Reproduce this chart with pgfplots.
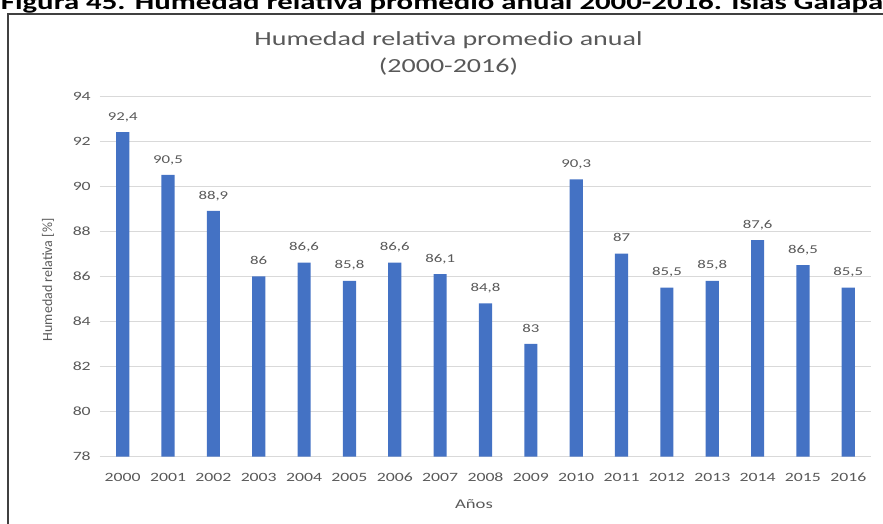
\documentclass[border=0pt]{standalone}
\usepackage{fontspec}
\setmainfont{Carlito}[FakeStretch=1.4]
\newfontfamily\plainfont{Carlito}
\usepackage{pgfplots}
\pgfplotsset{compat=1.18}
\definecolor{barblue}{HTML}{4472C4}
\definecolor{txtgray}{HTML}{595959}
\definecolor{gridgray}{HTML}{D9D9D9}
\begin{document}
\begin{tikzpicture}
\useasboundingbox (0,0) rectangle (662.25pt,-393pt);
\begin{scope}
\clip (0,0) rectangle (662.25pt,-393pt);
\node[anchor=base west, inner sep=0pt, font=\fontsize{16.5}{18}\selectfont\bfseries] at (0.5pt,-7.5pt) {Figura 45. Humedad relativa promedio anual 2000-2016. Islas Galápagos};
\draw[line width=1pt, color=black!75] (6pt,-10.5pt) rectangle (700pt,-420pt);
\end{scope}
\begin{axis}[
  at={(75pt,-342.4pt)}, anchor=south west,
  scale only axis, width=578.25pt, height=270.4pt,
  ybar, bar width=0.29,
  xmin=-0.5, xmax=16.5, ymin=78, ymax=94,
  ytick={78,80,82,84,86,88,90,92,94},
  xtick={0,1,2,3,4,5,6,7,8,9,10,11,12,13,14,15,16},
  xticklabels={2000,2001,2002,2003,2004,2005,2006,2007,2008,2009,2010,2011,2012,2013,2014,2015,2016},
  ymajorgrids, grid style={gridgray, line width=0.75pt},
  axis line style={draw=none}, major tick length=0pt, tick style={draw=none},
  /pgf/number format/assume math mode=true,
  /pgf/number format/use comma,
  /pgf/number format/1000 sep={},
  ticklabel style={font=\fontsize{9.5}{10}\selectfont, text=txtgray},
  yticklabel style={anchor=east, inner sep=0pt, xshift=-6.75pt},
  xticklabel style={anchor=base, inner sep=0pt, yshift=-18.4pt},
  title={Humedad relativa promedio anual\\(2000-2016)},
  title style={align=center, font=\fontsize{15}{20.25}\selectfont, text=txtgray,
    at={(axis description cs:0.452,1)}, anchor=center, yshift=26.2pt},
  ylabel={Humedad relativa [\%]},
  ylabel style={font=\plainfont\fontsize{10.5}{12}\selectfont, text=txtgray,
    at={(axis description cs:-0.0674,0.49)}, anchor=center},
  xlabel={Años},
  xlabel style={font=\fontsize{10}{12}\selectfont, text=txtgray,
    at={(axis description cs:0.485,0)}, anchor=center, yshift=-36pt},
  nodes near coords,
  nodes near coords style={font=\fontsize{9}{10}\selectfont, text=txtgray, anchor=base, inner sep=0pt, yshift=8.9pt},
]
\addplot[fill=barblue, draw=none] coordinates {
(0,92.4) (1,90.5) (2,88.9) (3,86) (4,86.6) (5,85.8) (6,86.6) (7,86.1) (8,84.8)
(9,83) (10,90.3) (11,87) (12,85.5) (13,85.8) (14,87.6) (15,86.5) (16,85.5)};
\end{axis}
\end{tikzpicture}
\end{document}
